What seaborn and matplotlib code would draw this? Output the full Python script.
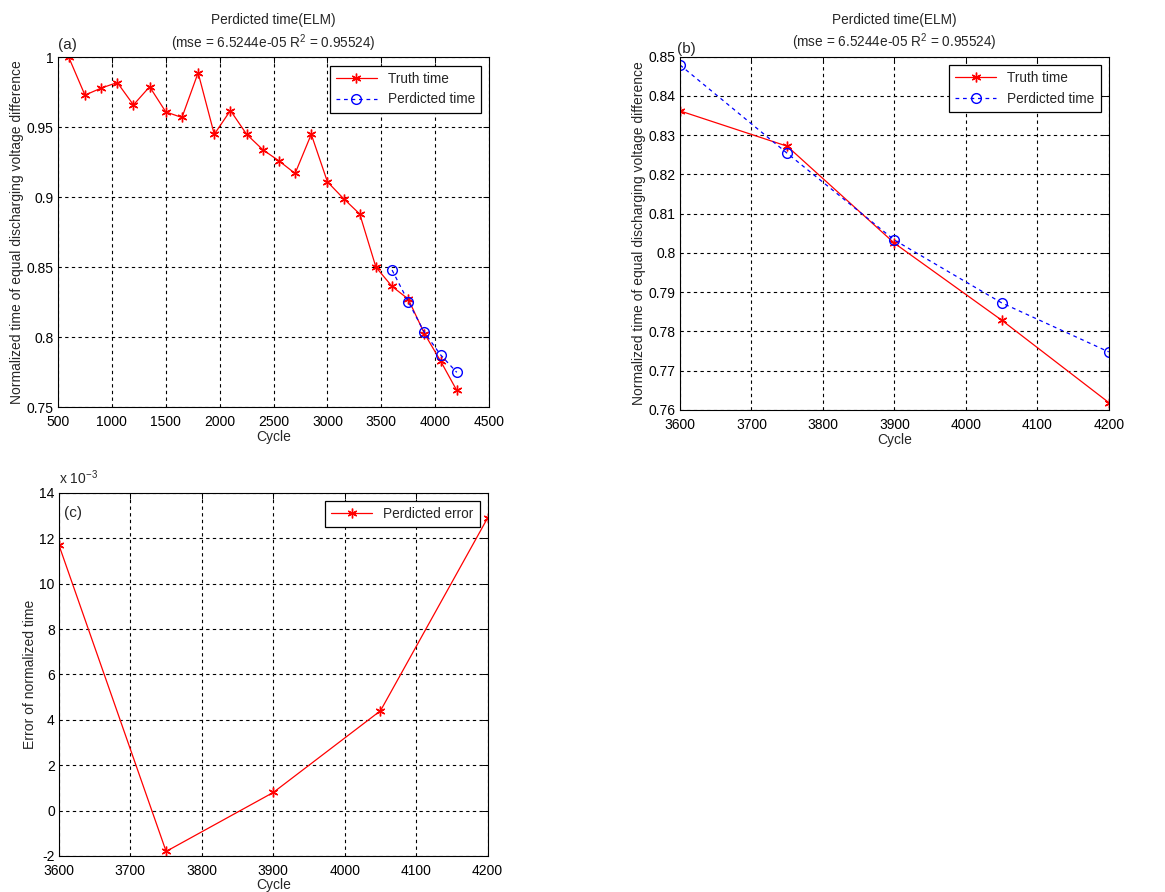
import numpy as np
import pandas as pd
import matplotlib
matplotlib.use("Agg")
import matplotlib.pyplot as plt
from matplotlib.ticker import FuncFormatter, MultipleLocator
import seaborn as sns

# ---- data ----
cycles_all = [600, 750, 900, 1050, 1200, 1350, 1500, 1650, 1800, 1950, 2100, 2250,
              2400, 2550, 2700, 2850, 3000, 3150, 3300, 3450, 3600, 3750, 3900, 4050, 4200]
truth_all = [1.000, 0.973, 0.978, 0.982, 0.966, 0.979, 0.961, 0.957, 0.989, 0.945, 0.962, 0.945,
             0.934, 0.926, 0.917, 0.945, 0.911, 0.899, 0.888, 0.850, 0.8362, 0.8272, 0.8025, 0.7829, 0.7619]
cycles_pred = [3600, 3750, 3900, 4050, 4200]
truth_pred = [0.8362, 0.8272, 0.8025, 0.7829, 0.7619]
predicted = [0.8479, 0.8254, 0.8033, 0.7873, 0.7748]
error = [0.0117, -0.0018, 0.0008, 0.0044, 0.0129]

title_txt = "Perdicted time(ELM)\n(mse = 6.5244e-05 R$^2$ = 0.95524)"
ylab_ab = "Normalized time of equal discharging voltage difference"

sns.set_style("white")
plt.rcParams["font.family"] = ["Liberation Sans", "DejaVu Sans"]
plt.rcParams["mathtext.fontset"] = "custom"
plt.rcParams["mathtext.rm"] = "Liberation Sans"
plt.rcParams["font.size"] = 10

fig = plt.figure(figsize=(11.65, 8.92), dpi=100)
ax_a = fig.add_axes([0.0498, 0.5437, 0.370, 0.392])
ax_b = fig.add_axes([0.5837, 0.5404, 0.368, 0.396])
ax_c = fig.add_axes([0.0506, 0.0404, 0.368, 0.407])

STAR = (6, 2, 0)
red_kw = dict(color="red", linewidth=0.9, marker=STAR, markersize=7,
              markeredgewidth=1.0, markeredgecolor="red")
blue_kw = dict(color="blue", linewidth=0.9, linestyle=(0, (3, 3)), marker="o",
               markersize=7, markerfacecolor="none", markeredgecolor="blue", markeredgewidth=1.0)


def style(ax):
    ax.grid(True, color="black", linestyle=(0, (3, 3)), linewidth=0.8)
    for s in ax.spines.values():
        s.set_color("black")
        s.set_linewidth(0.8)
        s.set_visible(True)
    ax.tick_params(direction="in", length=4, width=0.7, top=True, right=True,
                   labelsize=10, colors="black")
    ax.tick_params(axis="x", pad=5.5)
    ax.tick_params(axis="y", pad=3)
    ax.set_facecolor("white")


def leg(ax):
    lg = ax.legend(loc="upper right", fontsize=9.8, frameon=True, fancybox=False,
                   edgecolor="black", framealpha=1, borderpad=0.45, handlelength=3.0,
                   borderaxespad=0.6)
    lg.get_frame().set_linewidth(0.9)


gfmt = FuncFormatter(lambda v, p: f"{v:g}")

# ---- (a) ----
sns.lineplot(x=cycles_all, y=truth_all, ax=ax_a, label="Truth time", **red_kw)
sns.lineplot(x=cycles_pred, y=predicted, ax=ax_a, label="Perdicted time", **blue_kw)
ax_a.set_xlim(500, 4500)
ax_a.set_ylim(0.75, 1.0)
ax_a.xaxis.set_major_locator(MultipleLocator(500))
ax_a.yaxis.set_major_locator(MultipleLocator(0.05))
ax_a.yaxis.set_major_formatter(gfmt)
style(ax_a)
leg(ax_a)
ax_a.set_xlabel("Cycle", fontsize=10, labelpad=1)
ax_a.set_ylabel(ylab_ab, fontsize=10, labelpad=2)
ax_a.set_title(title_txt, fontsize=9.8, pad=7, linespacing=1.3)
ax_a.text(0.0, 1.015, "(a)", transform=ax_a.transAxes, fontsize=11, ha="left", va="bottom")

# ---- (b) ----
sns.lineplot(x=cycles_pred, y=truth_pred, ax=ax_b, label="Truth time", **red_kw)
sns.lineplot(x=cycles_pred, y=predicted, ax=ax_b, label="Perdicted time", **blue_kw)
ax_b.set_xlim(3600, 4200)
ax_b.set_ylim(0.76, 0.85)
ax_b.xaxis.set_major_locator(MultipleLocator(100))
ax_b.yaxis.set_major_locator(MultipleLocator(0.01))
ax_b.yaxis.set_major_formatter(gfmt)
style(ax_b)
leg(ax_b)
ax_b.set_xlabel("Cycle", fontsize=10, labelpad=1)
ax_b.set_ylabel(ylab_ab, fontsize=10, labelpad=2)
ax_b.set_title(title_txt, fontsize=9.8, pad=7, linespacing=1.3)
ax_b.text(-0.008, 1.003, "(b)", transform=ax_b.transAxes, fontsize=11, ha="left", va="bottom")

# ---- (c) ----
sns.lineplot(x=cycles_pred, y=error, ax=ax_c, label="Perdicted error", **red_kw)
ax_c.set_xlim(3600, 4200)
ax_c.set_ylim(-0.002, 0.014)
ax_c.xaxis.set_major_locator(MultipleLocator(100))
ax_c.yaxis.set_major_locator(MultipleLocator(0.002))
ax_c.yaxis.set_major_formatter(FuncFormatter(lambda v, p: f"{v*1e3:.0f}"))
style(ax_c)
leg(ax_c)
ax_c.set_xlabel("Cycle", fontsize=10, labelpad=0)
ax_c.set_ylabel("Error of normalized time", fontsize=10, labelpad=2)
ax_c.text(0.0, 1.015, "x 10$^{-3}$", transform=ax_c.transAxes, fontsize=10, ha="left", va="bottom")
ax_c.text(0.012, 0.965, "(c)", transform=ax_c.transAxes, fontsize=11, ha="left", va="top")

fig.savefig("out.png", dpi=100, facecolor="white")
